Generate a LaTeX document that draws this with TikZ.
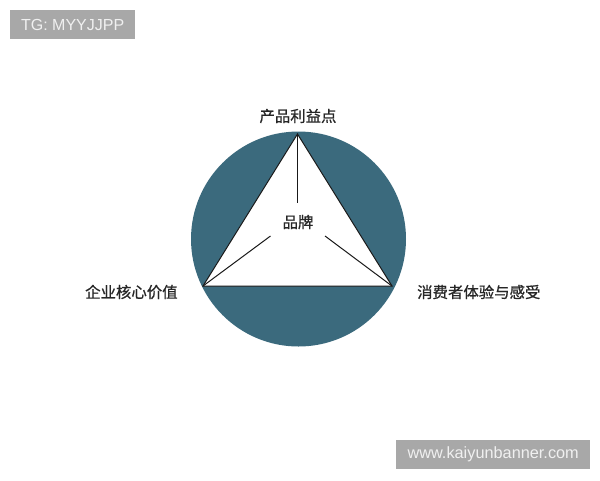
\documentclass[tikz,border=0pt]{standalone}
\usepackage{fontspec}
\setmainfont{Liberation Sans}
\newfontfamily\cjk[FakeBold=0.8]{Noto Sans CJK SC}
\begin{document}
\begin{tikzpicture}[x=1pt,y=-1pt,
  lbl/.style={font=\cjk\fontsize{15.4}{18}\selectfont, text=black!85, inner sep=0pt},
  wm/.style={fill=wmgray, inner sep=0pt, anchor=north west},
  wmtext/.style={text=white!94!black, inner sep=0pt},
  edge/.style={line width=1pt, draw=black!90}]
\definecolor{teal}{HTML}{3B6A7D}
\definecolor{wmgray}{HTML}{A8A8A8}
\useasboundingbox (0,0) rectangle (600,480);
\fill[white] (0,0) rectangle (600,480);
% circle
\fill[teal] (298.5,239) circle[radius=107.5];
% triangle vertices
\coordinate (vt) at (297.5,134);
\coordinate (vl) at (203,286);
\coordinate (vr) at (392,286);
\fill[white] (vt) -- (vl) -- (vr) -- cycle;
\draw[line width=1pt, black!90, line join=miter] (vt) -- (vl) -- (vr) -- cycle;
% centre label and spokes
\node[lbl] (brand) at (298,222) {品牌};
\coordinate (st) at (297.5,203);
\coordinate (sl) at (270.5,236);
\coordinate (sr) at (325,236);
\draw[edge, line width=1.3pt] (vt) -- (st);
\draw[edge] (vl) -- (sl);
\draw[edge] (vr) -- (sr);
% outer labels
\node[lbl] (top) at (298,116) {产品利益点};
\node[lbl, anchor=west] (left) at (85,292) {企业核心价值};
\node[lbl, anchor=west] (right) at (417,292) {消费者体验与感受};
% watermarks
\node[wm, minimum width=125, minimum height=29] (wm1) at (10,10) {};
\node[wmtext, font=\fontsize{16}{19}\selectfont] at (wm1.center) {TG: MYYJJPP};
\node[wm, minimum width=194, minimum height=29] (wm2) at (396,440) {};
\node[wmtext, font=\fontsize{16.3}{19}\selectfont] at (wm2.center) {www.kaiyunbanner.com};
\end{tikzpicture}
\end{document}
